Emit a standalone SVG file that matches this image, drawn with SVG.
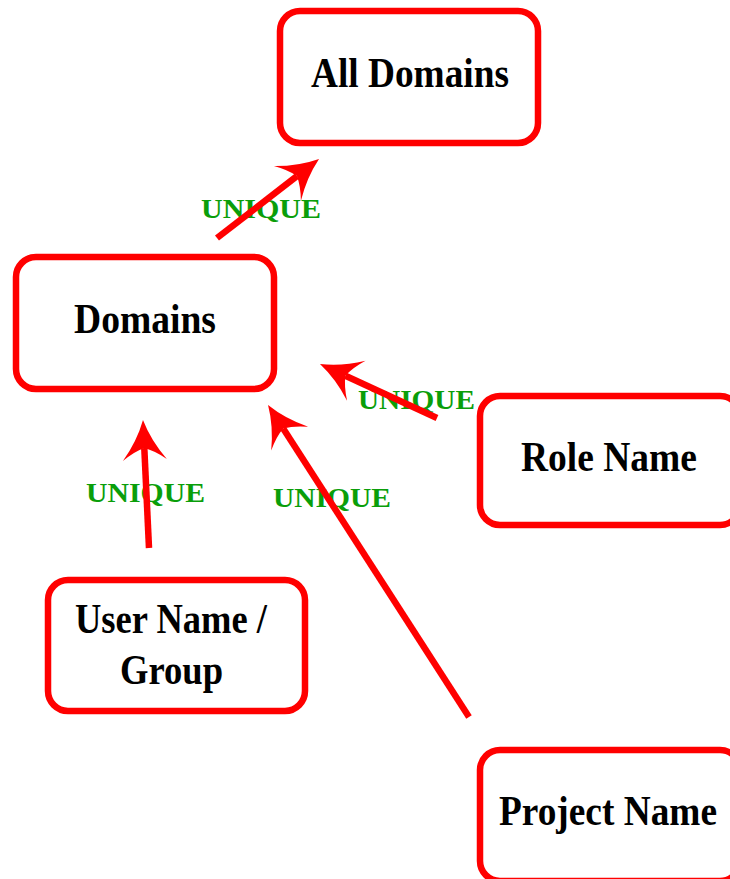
<svg xmlns="http://www.w3.org/2000/svg" width="730" height="879" viewBox="0 0 730 879">
<style>
.box{fill:#ffffff;stroke:#ff0000;stroke-width:6.5}
.t{font-family:"Liberation Serif","Times New Roman",serif;font-weight:bold;font-size:42px;fill:#000000}
.lbl{font-family:"Liberation Serif","Times New Roman",serif;font-weight:bold;font-size:27px;fill:#0a9e0a}
.edge{fill:none;stroke:#ff0000;stroke-width:6.5}
</style>
<defs>
<marker id="ah" markerUnits="userSpaceOnUse" viewBox="-44 -25 46 50" markerWidth="46" markerHeight="50" refX="-28" refY="0" orient="auto">
<path d="M0,0 Q-21,-7 -40,-22 Q-31,-10 -28,0 Q-31,10 -40,22 Q-21,7 0,0 Z" fill="#ff0000"/>
</marker>
</defs>
<rect width="730" height="879" fill="#ffffff"/>
<g id="node-all-domains">
<rect class="box" x="280" y="11" width="258" height="132" rx="20"/>
<text class="t" x="311" y="87" textLength="198" lengthAdjust="spacingAndGlyphs">All Domains</text>
</g>
<g id="node-domains">
<rect class="box" x="16" y="257" width="258" height="132" rx="20"/>
<text class="t" x="74" y="333" textLength="142" lengthAdjust="spacingAndGlyphs">Domains</text>
</g>
<g id="node-role-name">
<rect class="box" x="480" y="396" width="260" height="129" rx="20"/>
<text class="t" x="521" y="471" textLength="176" lengthAdjust="spacingAndGlyphs">Role Name</text>
</g>
<g id="node-user-name">
<rect class="box" x="48" y="580" width="257" height="131" rx="20"/>
<text class="t" x="75" y="633" textLength="192" lengthAdjust="spacingAndGlyphs">User Name /</text>
<text class="t" x="120" y="684" textLength="103" lengthAdjust="spacingAndGlyphs">Group</text>
</g>
<g id="node-project-name">
<rect class="box" x="480" y="750" width="260" height="131" rx="20"/>
<text class="t" x="499" y="825" textLength="218" lengthAdjust="spacingAndGlyphs">Project Name</text>
</g>
<g id="labels">
<text class="lbl" x="201" y="218" textLength="120" lengthAdjust="spacingAndGlyphs">UNIQUE</text>
<text class="lbl" x="358" y="409" textLength="117" lengthAdjust="spacingAndGlyphs">UNIQUE</text>
<text class="lbl" x="86" y="502" textLength="119" lengthAdjust="spacingAndGlyphs">UNIQUE</text>
<text class="lbl" x="273" y="507" textLength="118" lengthAdjust="spacingAndGlyphs">UNIQUE</text>
</g>
<g id="connectors">
<line class="edge" x1="217" y1="238" x2="296.9" y2="176.1" marker-end="url(#ah)"/>
<line class="edge" x1="437" y1="418" x2="345.4" y2="375.7" marker-end="url(#ah)"/>
<line class="edge" x1="149" y1="548" x2="144.3" y2="448" marker-end="url(#ah)"/>
<line class="edge" x1="469" y1="717" x2="283.2" y2="428.5" marker-end="url(#ah)"/>
</g>
</svg>
